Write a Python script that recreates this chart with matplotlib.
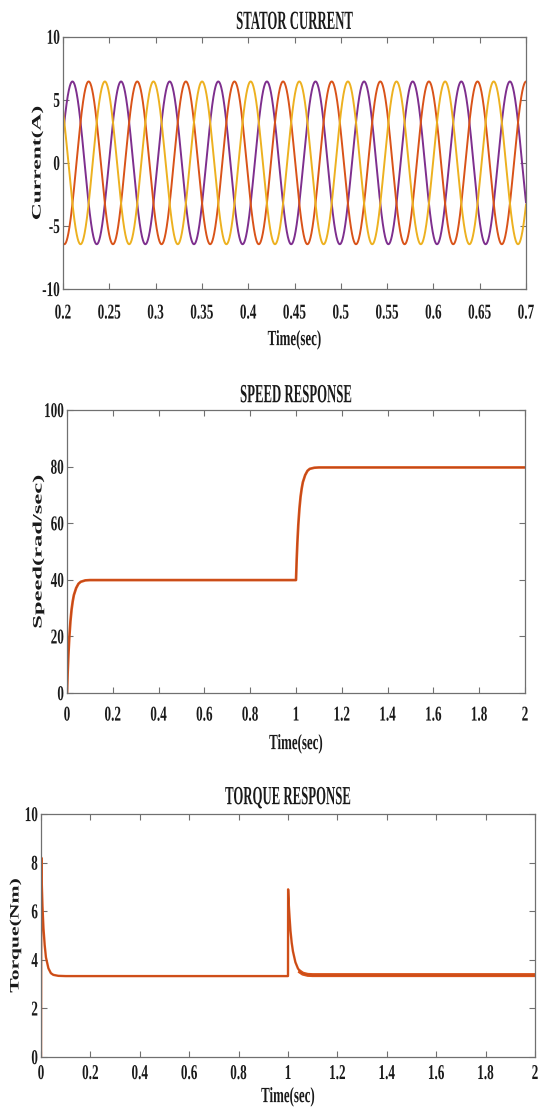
import numpy as np
import matplotlib
matplotlib.use("Agg")
import matplotlib.pyplot as plt
from matplotlib.patheffects import AbstractPathEffect
from matplotlib.transforms import Affine2D

# ------------------------------------------------------------------ data
# Stator current (three balanced phases)
current_amplitude = 6.45          # A (peak)
current_frequency = 19.05         # Hz (electrical)
current_first_peak = 0.2102       # s, first peak of the purple phase
phase_names = ["a", "b", "c"]
phase_lag_fraction = [0.0, 1 / 3, 2 / 3]   # lag of each phase (fraction of a period)
phase_colors = ["#7E2F8E", "#D95319", "#EDB120"]
current_t_start, current_t_end = 0.2, 0.7

# Speed response (rad/sec)
speed_time = [0, 0.003, 0.006, 0.01, 0.015, 0.02, 0.025, 0.03, 0.04, 0.05, 0.06,
              0.08, 0.1, 1.0, 1.003, 1.006, 1.01, 1.015, 1.02, 1.025, 1.03, 1.04,
              1.05, 1.06, 1.08, 1.1, 2.0]
speed_value = [0, 7.3, 13.2, 19.5, 25.3, 29.5, 32.4, 34.6, 37.1, 38.6, 39.3,
               39.8, 39.9, 39.9, 47.2, 53.1, 59.4, 65.2, 69.4, 72.3, 74.5, 77.0,
               78.5, 79.2, 79.6, 79.7, 79.7]

# Torque response (Nm)
torque_time = [0, 0.0015, 0.003, 0.006, 0.01, 0.015, 0.02, 0.03, 0.04, 0.05, 0.07,
               0.1, 1.0, 1.0005, 1.003, 1.006, 1.01, 1.015, 1.02, 1.03, 1.04, 1.05,
               1.06, 1.08, 1.1, 2.0]
torque_value = [0, 8.2, 7.2, 6.2, 5.3, 4.6, 4.1, 3.65, 3.45, 3.38, 3.34,
                3.33, 3.33, 6.9, 6.3, 5.8, 5.2, 4.7, 4.35, 3.9, 3.65, 3.5,
                3.43, 3.38, 3.37, 3.37]

# Ticks
current_xticks = [0.2, 0.25, 0.3, 0.35, 0.4, 0.45, 0.5, 0.55, 0.6, 0.65, 0.7]
current_xlabels = ["0.2", "0.25", "0.3", "0.35", "0.4", "0.45", "0.5", "0.55", "0.6", "0.65", "0.7"]
current_yticks = [-10, -5, 0, 5, 10]
current_ylabels = ["-10", "-5", "0", "5", "10"]
time_xticks = [0, 0.2, 0.4, 0.6, 0.8, 1.0, 1.2, 1.4, 1.6, 1.8, 2.0]
time_xlabels = ["0", "0.2", "0.4", "0.6", "0.8", "1", "1.2", "1.4", "1.6", "1.8", "2"]
speed_yticks = [0, 20, 40, 60, 80, 100]
speed_ylabels = ["0", "20", "40", "60", "80", "100"]
torque_yticks = [0, 2, 4, 6, 8, 10]
torque_ylabels = ["0", "2", "4", "6", "8", "10"]

titles = ["STATOR CURRENT", "SPEED RESPONSE", "TORQUE RESPONSE"]
xlabel_text = "Time(sec)"
ylabels = ["Current(A)", "Speed(rad/sec)", "Torque(Nm)"]


# ------------------------------------------------------------------ helpers
class Scale(AbstractPathEffect):
    """Stretch text glyphs (the reference uses a tall, condensed Times face)."""

    def __init__(self, sx=1.0, sy=1.0, fx=0.5, fy=0.5):
        super().__init__()
        self.sx, self.sy, self.fx, self.fy = sx, sy, fx, fy

    def draw_path(self, renderer, gc, tpath, affine, rgbFace=None):
        bb = tpath.get_extents(affine)
        px = bb.x0 + self.fx * (bb.x1 - bb.x0)
        py = bb.y0 + self.fy * (bb.y1 - bb.y0)
        tr = affine + Affine2D().translate(-px, -py).scale(self.sx, self.sy).translate(px, py)
        renderer.draw_path(gc, tpath, tr, rgbFace)


plt.rcParams["font.family"] = ["Liberation Serif", "DejaVu Serif"]
plt.rcParams["font.weight"] = "bold"

SPINE = "#707070"
TXT = "#1a1a1a"
LINE = "#D95319"
LINE_DARK = "#b5451a"

TICK_SIZE = 9.5
TICK_SY = 1.6

fig = plt.figure(figsize=(5.38, 11.08), dpi=100)

W, H = 538.0, 1108.0
# axes boxes in pixels: left, right, top, bottom
boxes = [(63, 526, 36.7, 289), (67, 525, 410, 693), (41, 535, 814, 1057)]
axes = []
for (l, r, t, b) in boxes:
    axes.append(fig.add_axes([l / W, 1 - b / H, (r - l) / W, (b - t) / H]))


def style(ax, xt, xl, yt, yl, title, ylab, ylab_x, xlab_y, xpad, ylab_sy):
    for s in ax.spines.values():
        s.set_color(SPINE)
        s.set_linewidth(0.9)
    ax.set_xticks(xt, xl)
    ax.set_yticks(yt, yl)
    ax.tick_params(direction="in", length=4, width=0.8, color=SPINE,
                   top=True, right=True, labelsize=TICK_SIZE, labelcolor=TXT)
    ax.tick_params(axis="x", pad=xpad)
    ax.tick_params(axis="y", pad=2.2)
    for lbl in ax.get_xticklabels():
        lbl.set_path_effects([Scale(sy=TICK_SY, fy=1.0)])
        lbl.set_fontweight("bold")
    for lbl in ax.get_yticklabels():
        lbl.set_path_effects([Scale(sy=TICK_SY, fx=1.0, fy=0.5)])
        lbl.set_fontweight("bold")
    ax.set_title(title, fontsize=9.2, fontweight="bold", color=TXT, pad=5.5,
                 path_effects=[Scale(sy=2.05, fy=0.0)])
    ax.set_xlabel(xlabel_text, fontsize=9.3, fontweight="bold", color=TXT,
                  path_effects=[Scale(sy=1.68)])
    ax.xaxis.label.set_va("center")
    ax.xaxis.set_label_coords(0.5, xlab_y)
    ax.set_ylabel(ylab, fontsize=9.3, fontweight="bold", color=TXT,
                  path_effects=[Scale(sy=ylab_sy)])
    ax.yaxis.label.set_va("center")
    ax.yaxis.set_label_coords(ylab_x, 0.5)


def px_to_axes_x(ax_box, px):
    l, r, t, b = ax_box
    return (px - l) / (r - l)


def px_to_axes_y(ax_box, py):
    l, r, t, b = ax_box
    return (b - py) / (b - t)


# ---- Stator current
ax1 = axes[0]
t_cur = np.linspace(current_t_start, current_t_end, 3001)
period = 1.0 / current_frequency
for name, lag, col in zip(phase_names, phase_lag_fraction, phase_colors):
    i_phase = current_amplitude * np.cos(
        2 * np.pi * current_frequency * (t_cur - current_first_peak - lag * period))
    ax1.plot(t_cur, i_phase, color=col, lw=1.4, label=name)
ax1.set_xlim(current_t_start, current_t_end)
ax1.set_ylim(-10, 10)
style(ax1, current_xticks, current_xlabels, current_yticks, current_ylabels,
      titles[0], ylabels[0], px_to_axes_x(boxes[0], 37.5), px_to_axes_y(boxes[0], 340),
      11.0, 1.82)

# ---- Speed response
ax2 = axes[1]
ax2.plot(speed_time, speed_value, color=LINE, lw=1.9, solid_joinstyle="round")
ax2.plot(speed_time, speed_value, color=LINE_DARK, lw=0.5)
ax2.set_xlim(0, 2)
ax2.set_ylim(0, 100)
style(ax2, time_xticks, time_xlabels, speed_yticks, speed_ylabels,
      titles[1], ylabels[1], px_to_axes_x(boxes[1], 38.5), px_to_axes_y(boxes[1], 744),
      9.6, 1.9)

# ---- Torque response
ax3 = axes[2]
ax3.plot(torque_time, torque_value, color=LINE, lw=1.7, solid_joinstyle="round")
k = torque_time.index(1.05)
ax3.plot(torque_time[k:], torque_value[k:], color=LINE, lw=2.9)
ax3.plot(torque_time, torque_value, color=LINE_DARK, lw=0.4)
ax3.set_xlim(0, 2)
ax3.set_ylim(0, 10)
style(ax3, time_xticks, time_xlabels, torque_yticks, torque_ylabels,
      titles[2], ylabels[2], px_to_axes_x(boxes[2], 15.5), px_to_axes_y(boxes[2], 1097),
      5.6, 1.68)

fig.savefig("out.png", dpi=100)
